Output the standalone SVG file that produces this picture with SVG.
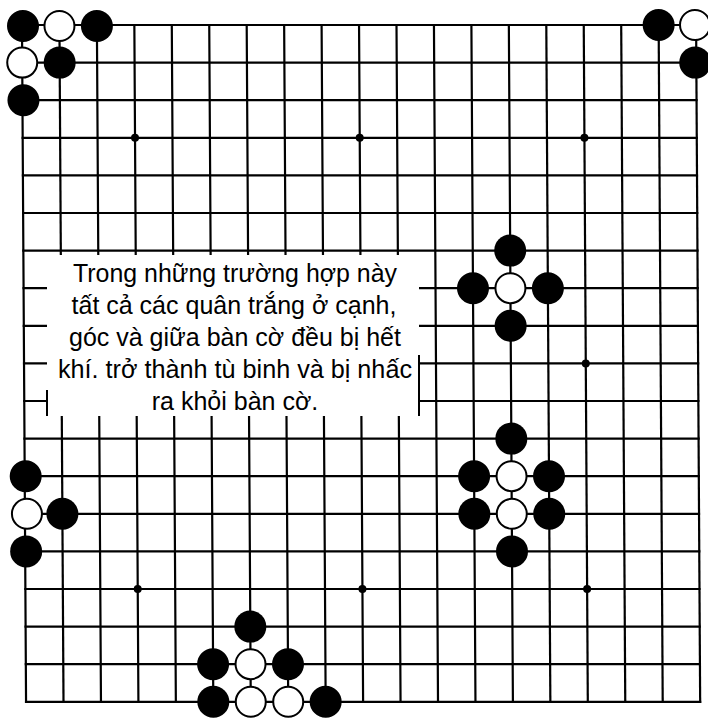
<svg xmlns="http://www.w3.org/2000/svg" width="708" height="719" viewBox="0 0 708 719">
<style>
.grid line{stroke:#000;stroke-width:2.2;stroke-linecap:square}
.star{fill:#000}
.b{fill:#000}
.w{fill:#fff;stroke:#000;stroke-width:2}
.txt{font-family:"Liberation Sans",Arial,sans-serif;font-size:25px;fill:#000;text-anchor:middle}
.edge{stroke:#000;stroke-width:2}
</style>
<rect width="708" height="719" fill="#fff"/>
<g id="board" transform="matrix(1,0,0.006,1,-0.15,0)">
<g id="grid" class="grid">
<line x1="22" y1="25" x2="22" y2="701.8"/>
<line x1="59.45" y1="25" x2="59.45" y2="701.8"/>
<line x1="96.9" y1="25" x2="96.9" y2="701.8"/>
<line x1="134.35" y1="25" x2="134.35" y2="701.8"/>
<line x1="171.8" y1="25" x2="171.8" y2="701.8"/>
<line x1="209.25" y1="25" x2="209.25" y2="701.8"/>
<line x1="246.7" y1="25" x2="246.7" y2="701.8"/>
<line x1="284.15" y1="25" x2="284.15" y2="701.8"/>
<line x1="321.6" y1="25" x2="321.6" y2="701.8"/>
<line x1="359.05" y1="25" x2="359.05" y2="701.8"/>
<line x1="396.5" y1="25" x2="396.5" y2="701.8"/>
<line x1="433.95" y1="25" x2="433.95" y2="701.8"/>
<line x1="471.4" y1="25" x2="471.4" y2="701.8"/>
<line x1="508.85" y1="25" x2="508.85" y2="701.8"/>
<line x1="546.3" y1="25" x2="546.3" y2="701.8"/>
<line x1="583.75" y1="25" x2="583.75" y2="701.8"/>
<line x1="621.2" y1="25" x2="621.2" y2="701.8"/>
<line x1="658.65" y1="25" x2="658.65" y2="701.8"/>
<line x1="696.1" y1="25" x2="696.1" y2="701.8"/>
<line x1="22" y1="25" x2="696.1" y2="25"/>
<line x1="22" y1="62.6" x2="696.1" y2="62.6"/>
<line x1="22" y1="100.2" x2="696.1" y2="100.2"/>
<line x1="22" y1="137.8" x2="696.1" y2="137.8"/>
<line x1="22" y1="175.4" x2="696.1" y2="175.4"/>
<line x1="22" y1="213" x2="696.1" y2="213"/>
<line x1="22" y1="250.6" x2="696.1" y2="250.6"/>
<line x1="22" y1="288.2" x2="696.1" y2="288.2"/>
<line x1="22" y1="325.8" x2="696.1" y2="325.8"/>
<line x1="22" y1="363.4" x2="696.1" y2="363.4"/>
<line x1="22" y1="401" x2="696.1" y2="401"/>
<line x1="22" y1="438.6" x2="696.1" y2="438.6"/>
<line x1="22" y1="476.2" x2="696.1" y2="476.2"/>
<line x1="22" y1="513.8" x2="696.1" y2="513.8"/>
<line x1="22" y1="551.4" x2="696.1" y2="551.4"/>
<line x1="22" y1="589" x2="696.1" y2="589"/>
<line x1="22" y1="626.6" x2="696.1" y2="626.6"/>
<line x1="22" y1="664.2" x2="696.1" y2="664.2"/>
<line x1="22" y1="701.8" x2="696.1" y2="701.8"/>
</g>
<g id="stars" class="star">
<circle cx="134.35" cy="137.8" r="4"/>
<circle cx="359.05" cy="137.8" r="4"/>
<circle cx="583.75" cy="137.8" r="4"/>
<circle cx="583.75" cy="363.4" r="4"/>
<circle cx="134.35" cy="589" r="4"/>
<circle cx="359.05" cy="589" r="4"/>
<circle cx="583.75" cy="589" r="4"/>
</g>
<g id="corner-top-left">
<circle class="b" cx="23" cy="26" r="16"/>
<circle class="w" cx="59.45" cy="26" r="15"/>
<circle class="b" cx="96.9" cy="26" r="16"/>
<circle class="w" cx="22" cy="62.6" r="15"/>
<circle class="b" cx="59.45" cy="62.6" r="16"/>
<circle class="b" cx="23" cy="100.2" r="16"/>
</g>
<g id="corner-top-right">
<circle class="b" cx="658.65" cy="25" r="16"/>
<circle class="w" cx="695" cy="25" r="15"/>
<circle class="b" cx="695" cy="62.6" r="16"/>
</g>
<g id="center-single">
<circle class="b" cx="508.85" cy="250.6" r="16"/>
<circle class="b" cx="471.4" cy="288.2" r="16"/>
<circle class="w" cx="508.85" cy="288.2" r="15"/>
<circle class="b" cx="546.3" cy="288.2" r="16"/>
<circle class="b" cx="508.85" cy="325.8" r="16"/>
</g>
<g id="center-pair">
<circle class="b" cx="508.85" cy="438.6" r="16"/>
<circle class="b" cx="471.4" cy="476.2" r="16"/>
<circle class="w" cx="508.85" cy="476.2" r="15"/>
<circle class="b" cx="546.3" cy="476.2" r="16"/>
<circle class="b" cx="471.4" cy="513.8" r="16"/>
<circle class="w" cx="508.85" cy="513.8" r="15"/>
<circle class="b" cx="546.3" cy="513.8" r="16"/>
<circle class="b" cx="508.85" cy="551.4" r="16"/>
</g>
<g id="edge-left">
<circle class="b" cx="23" cy="476.2" r="16"/>
<circle class="w" cx="24" cy="513.8" r="15"/>
<circle class="b" cx="59.45" cy="513.8" r="16"/>
<circle class="b" cx="23" cy="551.4" r="16"/>
</g>
<g id="edge-bottom">
<circle class="b" cx="246.7" cy="626.6" r="16"/>
<circle class="b" cx="209.25" cy="664.2" r="16"/>
<circle class="w" cx="246.7" cy="664.2" r="15"/>
<circle class="b" cx="284.15" cy="664.2" r="16"/>
<circle class="b" cx="209.25" cy="701.8" r="16"/>
<circle class="w" cx="246.7" cy="701.8" r="15"/>
<circle class="w" cx="284.15" cy="701.8" r="15"/>
<circle class="b" cx="321.6" cy="701.8" r="16"/>
</g>
</g>
<g id="caption">
<rect x="47" y="255" width="372" height="161" fill="#fff"/>
<line class="edge" x1="47" y1="390" x2="47" y2="416"/>
<line class="edge" x1="419" y1="355" x2="419" y2="416"/>
<text class="txt" x="235" y="282" textLength="324" lengthAdjust="spacingAndGlyphs">Trong những trường hợp này</text>
<text class="txt" x="234" y="314">tất cả các quân trắng ở cạnh,</text>
<text class="txt" x="235" y="346">góc và giữa bàn cờ đều bị hết</text>
<text class="txt" x="235" y="378" textLength="354" lengthAdjust="spacingAndGlyphs">khí. trở thành tù binh và bị nhấc</text>
<text class="txt" x="235" y="410">ra khỏi bàn cờ.</text>
</g>
</svg>
